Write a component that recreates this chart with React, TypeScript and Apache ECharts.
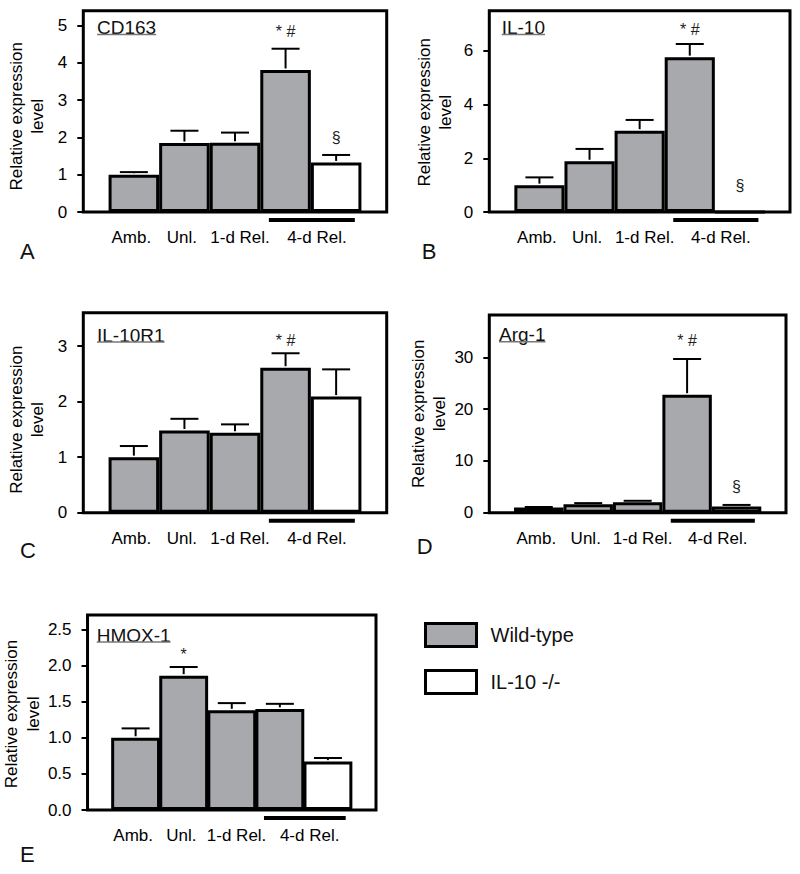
import { useEffect, useRef } from 'react';
import * as echarts from 'echarts';

// ---------- data ----------
const GROUPS = ['Amb.', 'Unl.', '1-d Rel.', '4-d Rel.'];
const GENOTYPES = ['Wild-type', 'IL-10 -/-'];
const Y_NAME = 'Relative expression\nlevel';

const CD163_WT = [1.0, 1.85, 1.86, 3.81];
const CD163_WT_SEM = [0.07, 0.33, 0.27, 0.57];
const CD163_KO = [1.33];
const CD163_KO_SEM = [0.2];
const CD163_SIG = ['', '', '', '* #', '§'];

const IL10_WT = [1.0, 1.89, 3.03, 5.77];
const IL10_WT_SEM = [0.29, 0.46, 0.4, 0.49];
const IL10_KO = [0];
const IL10_KO_SEM = [0];
const IL10_SIG = ['', '', '', '* #', '§'];

const IL10R1_WT = [1.0, 1.48, 1.44, 2.61];
const IL10R1_WT_SEM = [0.2, 0.21, 0.15, 0.26];
const IL10R1_KO = [2.09];
const IL10R1_KO_SEM = [0.49];
const IL10R1_SIG = ['', '', '', '* #', ''];

const ARG1_WT = [1.0, 1.65, 2.0, 22.8];
const ARG1_WT_SEM = [0.1, 0.2, 0.3, 6.9];
const ARG1_KO = [1.2];
const ARG1_KO_SEM = [0.3];
const ARG1_SIG = ['', '', '', '* #', '§'];

const HMOX1_WT = [1.0, 1.86, 1.38, 1.4];
const HMOX1_WT_SEM = [0.13, 0.12, 0.1, 0.07];
const HMOX1_KO = [0.67];
const HMOX1_KO_SEM = [0.05];
const HMOX1_SIG = ['', '*', '', '', ''];

const A_TICKS = [0, 1, 2, 3, 4, 5];
const B_TICKS = [0, 2, 4, 6];
const C_TICKS = [0, 1, 2, 3];
const D_TICKS = [0, 10, 20, 30];
const E_TICKS = [0, 0.5, 1.0, 1.5, 2.0, 2.5];

// ---------- layout ----------
const FONT = '"Liberation Sans", Arial, Helvetica, sans-serif';
const GRAY = '#a7a9ac';
const LABEL_POS = [0.95, 1.95, 3.1, 4.62];
const BAR_POS = [1, 2, 3, 4, 5];
const GROUP_LINE = [3.67, 5.37];

const PANELS = [
  { gene: 'CD163', letter: 'A', wt: CD163_WT, wtSem: CD163_WT_SEM, ko: CD163_KO, koSem: CD163_KO_SEM, sig: CD163_SIG, ticks: A_TICKS, dec: 0,
    grid: { left: 83.3, top: 10.7, width: 303.4, height: 201.3 }, yMax: 5.4, interval: 1, nameGap: 35, nameShift: 5,
    title: [97, 27.5], letterPos: [20, 251], sigOff: [17, 17, 17, 17, 17] },
  { gene: 'IL-10', letter: 'B', wt: IL10_WT, wtSem: IL10_WT_SEM, ko: IL10_KO, koSem: IL10_KO_SEM, sig: IL10_SIG, ticks: B_TICKS, dec: 0,
    grid: { left: 489.3, top: 10.7, width: 300.7, height: 201.3 }, yMax: 7.5, interval: 2, nameGap: 33, nameShift: 1,
    title: [501.7, 27.5], letterPos: [421.7, 251.7], sigOff: [14, 14, 14, 14, 27] },
  { gene: 'IL-10R1', letter: 'C', wt: IL10R1_WT, wtSem: IL10R1_WT_SEM, ko: IL10R1_KO, koSem: IL10R1_KO_SEM, sig: IL10R1_SIG, ticks: C_TICKS, dec: 0,
    grid: { left: 83.3, top: 312.7, width: 303.4, height: 200 }, yMax: 3.6, interval: 1, nameGap: 35, nameShift: 7,
    title: [97, 335], letterPos: [20, 550.7], sigOff: [13, 13, 13, 13, 13] },
  { gene: 'Arg-1', letter: 'D', wt: ARG1_WT, wtSem: ARG1_WT_SEM, ko: ARG1_KO, koSem: ARG1_KO_SEM, sig: ARG1_SIG, ticks: D_TICKS, dec: 0,
    grid: { left: 489.3, top: 315, width: 296.7, height: 197.7 }, yMax: 38.2, interval: 10, nameGap: 32, nameShift: 0,
    title: [499, 334.7], letterPos: [416.7, 546.7], sigOff: [18, 18, 18, 18, 18] },
  { gene: 'HMOX-1', letter: 'E', wt: HMOX1_WT, wtSem: HMOX1_WT_SEM, ko: HMOX1_KO, koSem: HMOX1_KO_SEM, sig: HMOX1_SIG, ticks: E_TICKS, dec: 1,
    grid: { left: 82.7, top: 615, width: 293.3, height: 195 }, yMax: 2.7, interval: 0.5, nameGap: 36.5, nameShift: 1.5,
    title: [96.7, 635], letterPos: [20, 854], sigOff: [13, 13, 13, 13, 13] },
];

function measure(text: string, font: string): number {
  const c = document.createElement('canvas');
  const ctx = c.getContext('2d');
  if (!ctx) return text.length * 10;
  ctx.font = font;
  return ctx.measureText(text).width;
}

export default function App() {
  const ref = useRef<HTMLDivElement>(null);
  useEffect(() => {
    document.body.style.margin = '0';
    if (!ref.current) return;
    const chart = echarts.init(ref.current, undefined, { renderer: 'svg' });

    const grids: any[] = [];
    const xAxes: any[] = [];
    const yAxes: any[] = [];
    const series: any[] = [];
    const graphics: any[] = [];

    PANELS.forEach((p, i) => {
      grids.push({ ...p.grid, show: true, borderColor: '#000', borderWidth: 3, backgroundColor: 'transparent', containLabel: false });
      xAxes.push({
        type: 'value', gridIndex: i, min: 0, max: 6,
        axisLine: { show: false }, axisTick: { show: false }, splitLine: { show: false },
        axisLabel: {
          customValues: LABEL_POS, margin: 17, color: '#000', fontSize: 17, fontFamily: FONT,
          formatter: (v: number) => {
            const k = LABEL_POS.findIndex((q) => Math.abs(q - v) < 1e-6);
            return k >= 0 ? GROUPS[k] : '';
          },
        },
      });
      yAxes.push({
        type: 'value', gridIndex: i, min: 0, max: p.yMax, interval: p.interval,
        axisLine: { show: false }, splitLine: { show: false },
        axisTick: { show: true, length: 6, customValues: p.ticks, lineStyle: { color: '#000', width: 2 } },
        axisLabel: {
          customValues: p.ticks, margin: 16, color: '#000', fontSize: 17, fontFamily: FONT,
          formatter: (v: number) => (p.ticks.some((t) => Math.abs(t - v) < 1e-9) ? v.toFixed(p.dec) : ''),
        },
        name: Y_NAME, nameLocation: 'middle', nameRotate: 90, nameGap: p.nameGap,
        nameTextStyle: { color: '#000', fontSize: 17, fontFamily: FONT, lineHeight: 21.5, padding: [0, p.nameShift * 2, 0, 0] },
      });
      const barWidth = p.grid.width / 6;
      series.push({
        type: 'bar', name: GENOTYPES[0], xAxisIndex: i, yAxisIndex: i, barWidth, barGap: '-100%', z: 3,
        itemStyle: { color: GRAY, borderColor: '#000', borderWidth: 3 },
        data: p.wt.map((v, k) => [BAR_POS[k], v]),
      });
      series.push({
        type: 'bar', name: GENOTYPES[1], xAxisIndex: i, yAxisIndex: i, barWidth, barGap: '-100%', z: 3,
        itemStyle: { color: '#fff', borderColor: '#000', borderWidth: 3 },
        data: p.ko.map((v, k) => [BAR_POS[4 + k], v]),
      });
      const means = [...p.wt, ...p.ko];
      const sems = [...p.wtSem, ...p.koSem];
      series.push({
        type: 'custom', name: 'err', xAxisIndex: i, yAxisIndex: i, z: 4, clip: false,
        data: means.map((m, k) => [BAR_POS[k], m, sems[k]]),
        renderItem: (params: any, api: any) => {
          const x = api.value(0), m = api.value(1), s = api.value(2);
          const base = api.coord([x, m]);
          const top = api.coord([x, m + s]);
          const children: any[] = [];
          if (s > 0) {
            children.push({ type: 'line', shape: { x1: base[0], y1: base[1] - 1.5, x2: top[0], y2: top[1] }, style: { stroke: '#000', lineWidth: 2 } });
            children.push({ type: 'line', shape: { x1: top[0] - 14, y1: top[1], x2: top[0] + 14, y2: top[1] }, style: { stroke: '#000', lineWidth: 2 } });
          }
          const sg = p.sig[params.dataIndex];
          if (sg) {
            children.push({
              type: 'text', x: top[0], y: top[1] - p.sigOff[params.dataIndex],
              style: { text: sg, fill: '#222', font: `16px ${FONT}`, align: 'center', verticalAlign: 'middle' },
            });
          }
          return { type: 'group', children };
        },
      });
      series.push({
        type: 'custom', name: 'group', xAxisIndex: i, yAxisIndex: i, z: 4, clip: false,
        data: [[GROUP_LINE[0], GROUP_LINE[1]]],
        renderItem: (_params: any, api: any) => {
          const a = api.coord([api.value(0), 0]);
          const b = api.coord([api.value(1), 0]);
          return { type: 'line', shape: { x1: a[0], y1: a[1] + 8, x2: b[0], y2: b[1] + 8 }, style: { stroke: '#000', lineWidth: 4 } };
        },
      });
      const tFont = `19px ${FONT}`;
      const tw = measure(p.gene, tFont);
      graphics.push({ type: 'text', x: p.title[0], y: p.title[1], style: { text: p.gene, font: tFont, fill: '#111', align: 'left', verticalAlign: 'middle' } });
      graphics.push({ type: 'line', shape: { x1: p.title[0], y1: p.title[1] + 7, x2: p.title[0] + tw, y2: p.title[1] + 7 }, style: { stroke: '#777', lineWidth: 1.5 } });
      graphics.push({ type: 'text', x: p.letterPos[0], y: p.letterPos[1], style: { text: p.letter, font: `22px ${FONT}`, fill: '#111', align: 'left', verticalAlign: 'middle' } });
    });

    chart.setOption({
      animation: false,
      backgroundColor: '#fff',
      grid: grids,
      xAxis: xAxes,
      yAxis: yAxes,
      series,
      legend: {
        data: GENOTYPES, orient: 'vertical', left: 419, top: 617, itemWidth: 51, itemHeight: 23, itemGap: 21,
        icon: 'rect', selectedMode: false,
        itemStyle: { borderColor: '#000', borderWidth: 3 },
        textStyle: { color: '#111', fontSize: 20, fontFamily: FONT, padding: [0, 0, 0, 9] },
      },
      graphic: graphics,
    });
    return () => chart.dispose();
  }, []);
  return <div ref={ref} style={{ width: 800, height: 874 }} />;
}
